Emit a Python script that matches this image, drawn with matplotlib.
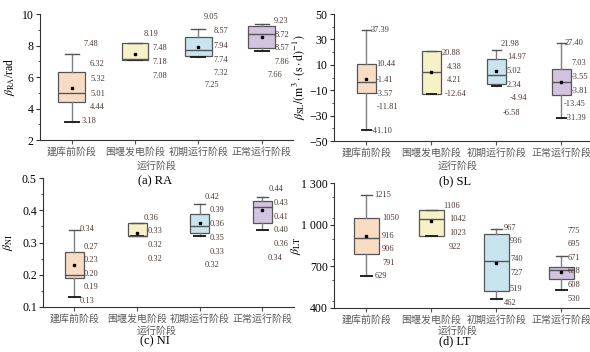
import matplotlib
matplotlib.use('Agg')
import matplotlib.pyplot as plt
from matplotlib.ticker import MultipleLocator

plt.rcParams['font.family'] = ['Liberation Serif', 'Noto Sans CJK SC']
plt.rcParams['mathtext.fontset'] = 'stix'

# 운행 단계 / 상자 색
stages = ['建库前阶段', '围堰发电阶段', '初期运行阶段', '正常运行阶段']
box_colors = ['#f9dcc4', '#f6f1c6', '#c9e4ee', '#d2c3e0']

# (a) RA
ra_whislo = [3.18, 7.08, 7.25, 7.66]
ra_q1 = [4.44, 7.08, 7.32, 7.86]
ra_med = [5.01, 7.18, 7.74, 8.72]
ra_mean = [5.32, 7.48, 7.94, 8.57]
ra_q3 = [6.32, 8.19, 8.57, 9.23]
ra_whishi = [7.48, 8.19, 9.05, 9.40]
ra_labels = [['7.48', '6.32', '5.32', '5.01', '4.44', '3.18'],
             ['8.19', '7.48', '7.18', '7.08'],
             ['9.05', '8.57', '7.94', '7.74', '7.32', '7.25'],
             ['9.23', '8.72', '8.57', '7.86', '7.66']]

# (b) SL
sl_whislo = [-41.10, -12.64, -6.58, -31.39]
sl_q1 = [-11.81, -12.64, -4.94, -13.45]
sl_med = [-3.57, 4.21, 2.34, -3.81]
sl_mean = [-1.41, 4.38, 5.02, -3.55]
sl_q3 = [10.44, 20.88, 14.97, 7.03]
sl_whishi = [37.39, 20.88, 21.98, 27.40]
sl_labels = [['37.39', '10.44', '-1.41', '-3.57', '-11.81', '-41.10'],
             ['20.88', '4.38', '4.21', '-12.64'],
             ['21.98', '14.97', '5.02', '2.34', '-4.94', '-6.58'],
             ['27.40', '7.03', '-3.55', '-3.81', '-13.45', '-31.39']]

# (c) NI
ni_whislo = [0.13, 0.32, 0.32, 0.34]
ni_q1 = [0.19, 0.32, 0.33, 0.36]
ni_med = [0.20, 0.32, 0.35, 0.41]
ni_mean = [0.23, 0.33, 0.36, 0.40]
ni_q3 = [0.27, 0.36, 0.39, 0.43]
ni_whishi = [0.34, 0.36, 0.42, 0.44]
ni_labels = [['0.34', '0.27', '0.23', '0.20', '0.19', '0.13'],
             ['0.36', '0.33', '0.32', '0.32'],
             ['0.42', '0.39', '0.36', '0.35', '0.33', '0.32'],
             ['0.44', '0.43', '0.41', '0.40', '0.36', '0.34']]

# (d) LT
lt_whislo = [629, 922, 462, 530]
lt_q1 = [791, 922, 519, 608]
lt_med = [906, 1042, 740, 671]
lt_mean = [916, 1023, 727, 658]
lt_q3 = [1050, 1106, 936, 695]
lt_whishi = [1215, 1106, 967, 775]
lt_labels = [['1215', '1050', '916', '906', '791', '629'],
             ['1106', '1042', '1023', '922'],
             ['967', '936', '740', '727', '519', '462'],
             ['775', '695', '671', '658', '608', '530']]

# 라벨 위치 (데이터 좌표)
ra_lx = [[1.18, 1.29, 1.30, 1.30, 1.29, 1.15], [2.14, 2.27, 2.27, 2.27],
         [3.09, 3.24, 3.24, 3.24, 3.24, 3.09], [4.20, 4.20, 4.20, 4.20, 4.10]]
ra_ly = [[8.10, 6.83, 5.87, 4.92, 4.10, 3.21], [8.73, 7.84, 6.95, 6.06],
         [9.81, 8.92, 7.97, 7.08, 6.25, 5.49], [9.56, 8.67, 7.84, 6.95, 6.13]]
sl_lx = [[1.07, 1.15, 1.15, 1.15, 1.16, 1.07], [2.16, 2.24, 2.24, 2.21],
         [3.07, 3.16, 3.16, 3.15, 3.21, 3.10], [4.05, 4.15, 4.15, 4.15, 4.04, 4.05]]
sl_ly = [[37.4, 10.6, -2.0, -13.0, -23.2, -42.1], [19.3, 8.3, -2.0, -13.0],
         [26.4, 16.2, 5.1, -5.9, -16.1, -27.9], [27.2, 11.4, 0.4, -10.6, -20.8, -31.9]]
ni_lx = [[1.09, 1.15, 1.15, 1.15, 1.15, 1.09], [2.10, 2.17, 2.17, 2.17],
         [3.07, 3.15, 3.15, 3.15, 3.15, 3.07], [4.10, 4.17, 4.17, 4.17, 4.17, 4.09]]
ni_ly = [[0.342, 0.286, 0.245, 0.202, 0.161, 0.118], [0.376, 0.336, 0.292, 0.249],
         [0.442, 0.401, 0.358, 0.314, 0.270, 0.230], [0.467, 0.423, 0.380, 0.338, 0.295, 0.251]]
lt_lx = [[1.12, 1.24, 1.24, 1.24, 1.24, 1.12], [2.18, 2.27, 2.27, 2.27],
         [3.12, 3.21, 3.21, 3.21, 3.21, 3.11], [4.10, 4.10, 4.10, 4.10, 4.10, 4.10]]
lt_ly = [[1215, 1049, 919, 825, 723, 629], [1136, 1042, 940, 839],
         [977, 882, 752, 651, 535, 434], [955, 861, 760, 666, 564, 463]]

label_color = '#4b3832'
tick_gray = '#595959'


def draw_panel(ax, whislo, q1, med, mean, q3, whishi, labels, lx, ly, width, capw):
    stats = []
    for i in range(4):
        stats.append({'whislo': whislo[i], 'q1': q1[i], 'med': med[i], 'mean': mean[i],
                      'q3': q3[i], 'whishi': whishi[i], 'fliers': []})
    bp = ax.bxp(stats, positions=[1, 2, 3, 4], widths=width, capwidths=capw,
                patch_artist=True, showmeans=True, showfliers=False,
                boxprops=dict(edgecolor='#555555', linewidth=0.9),
                whiskerprops=dict(color='#808080', linewidth=1.0),
                capprops=dict(color='#555555', linewidth=1.0),
                medianprops=dict(color='#555555', linewidth=1.0),
                meanprops=dict(marker='s', markerfacecolor='black',
                               markeredgecolor='black', markersize=2.1))
    for patch, c in zip(bp['boxes'], box_colors):
        patch.set_facecolor(c)
    # 아래쪽 캡은 검게
    for cap in bp['caps'][0::2]:
        cap.set_color('#222222')
        cap.set_linewidth(1.4)

    for i in range(4):
        for t, x, y in zip(labels[i], lx[i], ly[i]):
            ax.text(x, y, t, fontsize=6, color=label_color, ha='left', va='center',
                    family='Liberation Serif')

    ax.set_xticks([1, 2, 3, 4])
    ax.set_xticklabels(stages, family='Noto Sans CJK SC', fontsize=7.2, color=tick_gray)
    ax.tick_params(axis='x', length=3, pad=2, color='#555555')
    ax.tick_params(axis='y', which='major', length=3, labelsize=8.5, pad=1.5, color='#333333')
    ax.tick_params(axis='y', which='minor', length=1.8, color='#333333')
    ax.spines['top'].set_visible(False)
    ax.spines['right'].set_visible(False)
    for s in ['left', 'bottom']:
        ax.spines[s].set_color('#333333')
        ax.spines[s].set_linewidth(0.8)


fig = plt.figure(figsize=(5.9, 3.52), dpi=100)

ax1 = fig.add_axes([0.068, 0.602, 0.429, 0.358])
draw_panel(ax1, ra_whislo, ra_q1, ra_med, ra_mean, ra_q3, ra_whishi, ra_labels, ra_lx, ra_ly, 0.42, 0.22)
ax1.set_xlim(0.5, 4.5)
ax1.set_ylim(2, 10)
ax1.yaxis.set_major_locator(MultipleLocator(2))
ax1.yaxis.set_minor_locator(MultipleLocator(1))
ax1.set_ylabel(r'$\beta_{\rm RA}$/rad', fontsize=8.5)
ax1.yaxis.set_label_coords(-0.091, 0.5)

ax2 = fig.add_axes([0.566, 0.599, 0.434, 0.361])
draw_panel(ax2, sl_whislo, sl_q1, sl_med, sl_mean, sl_q3, sl_whishi, sl_labels, sl_lx, sl_ly, 0.30, 0.15)
ax2.set_xlim(0.5, 4.44)
ax2.set_ylim(-50, 50)
ax2.yaxis.set_minor_locator(MultipleLocator(10))
ax2.set_yticks([-50, -30, -10, 10, 30, 50])
ax2.set_ylabel(r'$\beta_{\rm SL}/(\rm m^3\cdot(s\cdot d)^{-1})$', fontsize=8.5)
ax2.yaxis.set_label_coords(-0.105, 0.5)

ax3 = fig.add_axes([0.073, 0.128, 0.425, 0.366])
draw_panel(ax3, ni_whislo, ni_q1, ni_med, ni_mean, ni_q3, ni_whishi, ni_labels, ni_lx, ni_ly, 0.30, 0.18)
ax3.set_xlim(0.5, 4.5)
ax3.set_ylim(0.1, 0.5)
ax3.yaxis.set_major_locator(MultipleLocator(0.1))
ax3.yaxis.set_minor_locator(MultipleLocator(0.05))
ax3.set_ylabel(r'$\beta_{\rm NI}$', fontsize=8.5)
ax3.yaxis.set_label_coords(-0.11, 0.5)

ax4 = fig.add_axes([0.566, 0.125, 0.434, 0.355])
draw_panel(ax4, lt_whislo, lt_q1, lt_med, lt_mean, lt_q3, lt_whishi, lt_labels, lt_lx, lt_ly, 0.38, 0.17)
ax4.set_xlim(0.5, 4.44)
ax4.set_ylim(400, 1300)
ax4.set_yticks([400, 700, 1000, 1300])
ax4.set_yticklabels(['400', '700', '1 000', '1 300'])
ax4.yaxis.set_minor_locator(MultipleLocator(150))
ax4.set_ylabel(r'$\beta_{\rm LT}$', fontsize=8.5)
ax4.yaxis.set_label_coords(-0.12, 0.5)

# x축 제목, 그림 캡션
for x, y in [(0.266, 0.528), (0.775, 0.528), (0.266, 0.060), (0.775, 0.060)]:
    fig.text(x, y, '运行阶段', family='Noto Sans CJK SC', fontsize=7.2, color=tick_gray,
             ha='center', va='center')
for x, y, t in [(0.263, 0.486, '(a) RA'), (0.771, 0.486, '(b) SL'),
                (0.263, 0.031, '(c) NI'), (0.771, 0.031, '(d) LT')]:
    fig.text(x, y, t, fontsize=9, ha='center', va='center')

fig.savefig('out.png', dpi=100)
